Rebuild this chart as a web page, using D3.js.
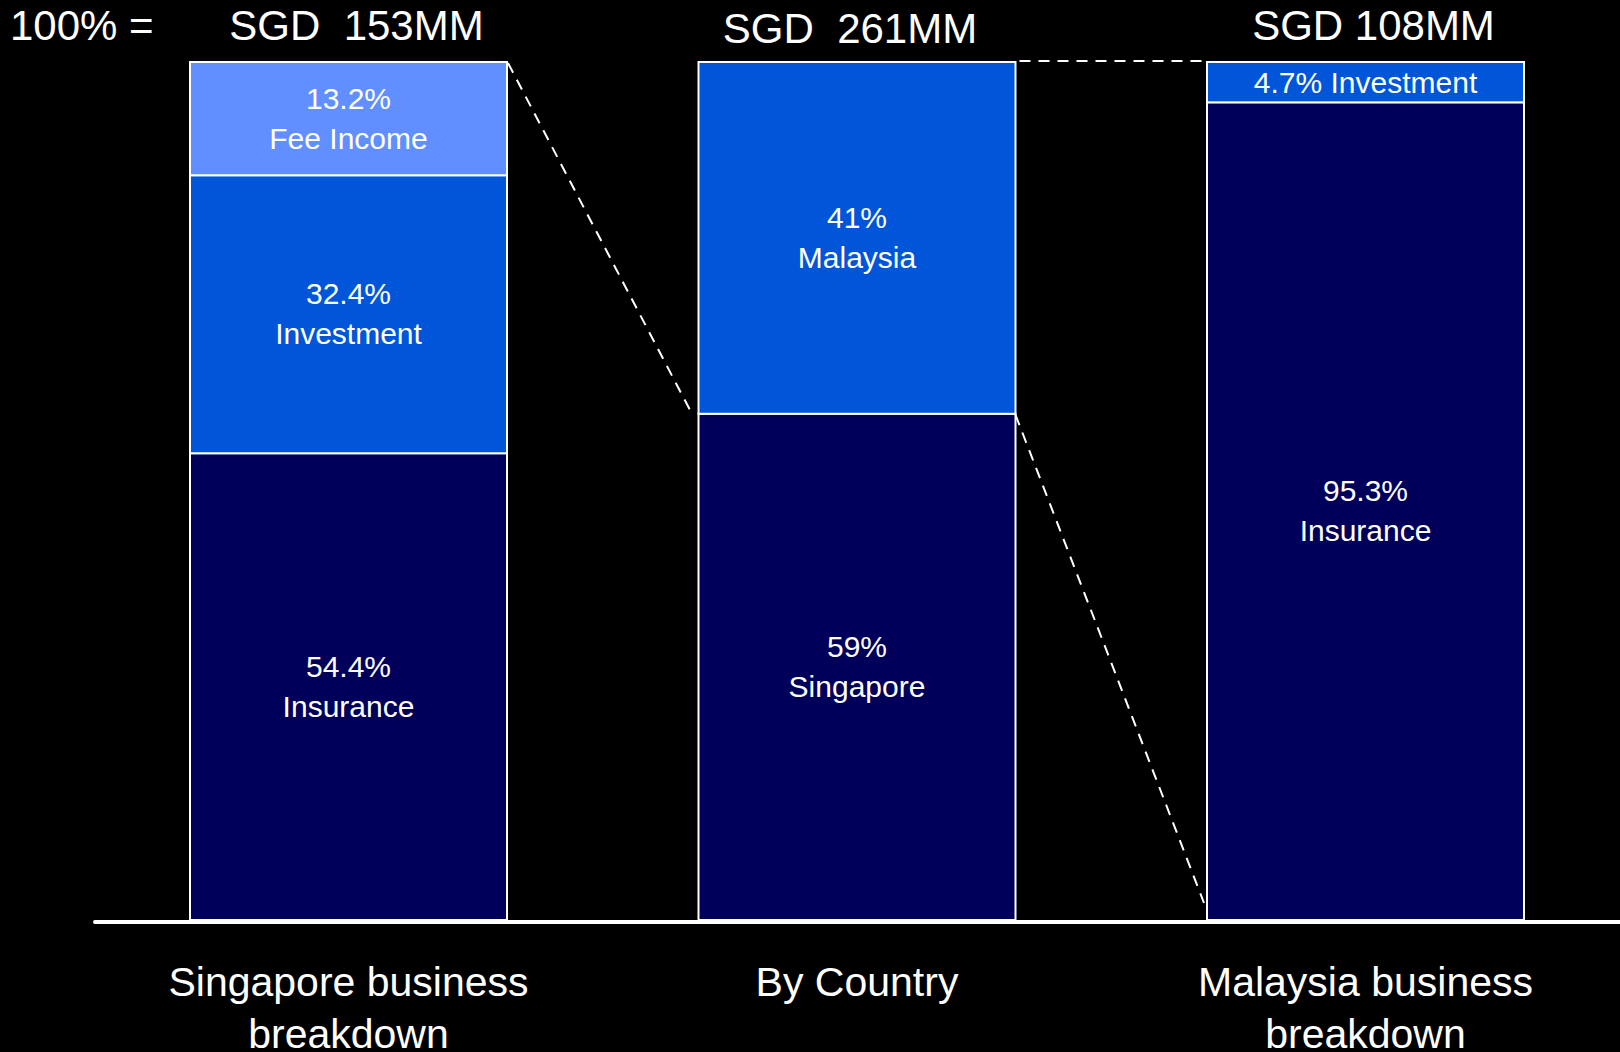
<!DOCTYPE html>
<html>
<head>
<meta charset="utf-8">
<script src="https://cdn.jsdelivr.net/npm/d3@7"></script>
<style>
  html, body { margin: 0; padding: 0; background: #000; }
  svg { display: block; }
  text { font-family: "Liberation Sans", Arial, sans-serif; fill: #fff; }
</style>
</head>
<body>
<div id="chart"></div>
<script>
// data
const groups = ["Singapore business breakdown", "By Country", "Malaysia business breakdown"];
const groupLines = [["Singapore business", "breakdown"], ["By Country"], ["Malaysia business", "breakdown"]];
const totals = ["SGD  153MM", "SGD  261MM", "SGD 108MM"];
const singaporeParts = ["Insurance", "Investment", "Fee Income"];
const singaporeShares = [54.4, 32.4, 13.2];
const countryParts = ["Singapore", "Malaysia"];
const countryShares = [59, 41];
const malaysiaParts = ["Insurance", "Investment"];
const malaysiaShares = [95.3, 4.7];

const partColor = {
  "Insurance": "#00005a",
  "Singapore": "#00005a",
  "Investment": "#0055d8",
  "Malaysia": "#0055d8",
  "Fee Income": "#618fff"
};

const width = 1620, height = 1052;
const svg = d3.select("#chart").append("svg")
    .attr("width", width)
    .attr("height", height);

const x = d3.scaleBand()
    .domain(groups)
    .range([190, 1524])
    .paddingInner(0.3766);

const y = d3.scaleLinear()
    .domain([0, 100])
    .range([920, 62]);

// build stacked segments for each bar
const bars = [
  {g: groups[0], parts: singaporeParts, shares: singaporeShares},
  {g: groups[1], parts: countryParts, shares: countryShares},
  {g: groups[2], parts: malaysiaParts, shares: malaysiaShares}
];
const segments = [];
bars.forEach(b => {
  let acc = 0;
  b.parts.forEach((p, i) => {
    segments.push({g: b.g, name: p, v: b.shares[i], y0: acc, y1: acc + b.shares[i]});
    acc += b.shares[i];
  });
});

svg.selectAll(".seg")
    .data(segments)
    .enter().append("rect")
    .attr("class", "seg")
    .attr("x", d => x(d.g))
    .attr("y", d => y(d.y1))
    .attr("width", x.bandwidth())
    .attr("height", d => y(d.y0) - y(d.y1))
    .style("fill", d => partColor[d.name])
    .style("stroke", "#fff")
    .style("stroke-width", 2);

// segment labels
const segLabels = svg.selectAll(".segLabel")
    .data(segments)
    .enter().append("text")
    .attr("class", "segLabel")
    .attr("text-anchor", "middle")
    .style("font-size", "30px");
segLabels.each(function (d) {
  const t = d3.select(this);
  const cx = x(d.g) + x.bandwidth() / 2;
  const cy = (y(d.y0) + y(d.y1)) / 2;
  if (y(d.y0) - y(d.y1) < 70) {
    t.append("tspan").attr("x", cx).attr("y", cy + 11).text(d.v + "% " + d.name);
  } else {
    t.append("tspan").attr("x", cx).attr("y", cy - 10).text(d.v + "%");
    t.append("tspan").attr("x", cx).attr("y", cy + 30).text(d.name);
  }
});

// baseline
svg.append("line")
    .attr("x1", 95).attr("x2", width)
    .attr("y1", y(0) + 2).attr("y2", y(0) + 2)
    .style("stroke", "#fff")
    .style("stroke-width", 4)
    .style("stroke-linecap", "round");

// connector lines (dashed)
const bw = x.bandwidth();
const connectors = [
  [x(groups[0]) + bw + 1, y(100) + 1, x(groups[1]) - 6, y(countryShares[0]) + 1],
  [x(groups[1]) + bw, y(countryShares[0]) + 1, x(groups[2]) - 3, y(0) - 17],
  [x(groups[1]) + bw + 4, y(100) - 1, x(groups[2]) - 2, y(100) - 1]
];
svg.selectAll(".conn")
    .data(connectors)
    .enter().append("line")
    .attr("class", "conn")
    .attr("x1", d => d[0]).attr("y1", d => d[1])
    .attr("x2", d => d[2]).attr("y2", d => d[3])
    .style("stroke", "#fff")
    .style("stroke-width", 2)
    .style("stroke-dasharray", "11,8");

// totals on top
const titleShift = [8, -7, 8];
svg.append("text")
    .attr("x", 10).attr("y", 40)
    .style("font-size", "42px")
    .text("100% =");
svg.selectAll(".total")
    .data(totals)
    .enter().append("text")
    .attr("class", "total")
    .attr("text-anchor", "middle")
    .attr("x", (d, i) => x(groups[i]) + bw / 2 + titleShift[i])
    .attr("y", (d, i) => i === 1 ? 43 : 40)
    .style("font-size", "42px")
    .style("white-space", "pre")
    .text(d => d);

// category labels under axis
const catLabels = svg.selectAll(".cat")
    .data(groups)
    .enter().append("text")
    .attr("class", "cat")
    .attr("text-anchor", "middle")
    .style("font-size", "41px");
catLabels.each(function (d, i) {
  const cx = x(d) + bw / 2;
  groupLines[i].forEach((line, j) => {
    d3.select(this).append("tspan")
        .attr("x", cx)
        .attr("y", 996 + j * 52)
        .text(line);
  });
});
</script>
</body>
</html>
